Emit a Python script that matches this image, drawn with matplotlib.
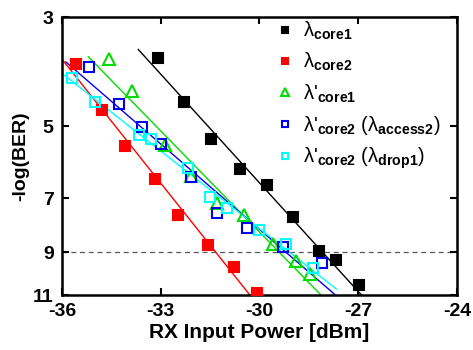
import numpy as np
import matplotlib
matplotlib.use("Agg")
import matplotlib.pyplot as plt
import matplotlib.ticker as ticker

plt.rcParams.update({
    "font.family": "Liberation Sans",
    "mathtext.fontset": "custom",
    "mathtext.rm": "Liberation Sans",
    "mathtext.bf": "Liberation Sans:bold",
    "mathtext.it": "Liberation Sans",
})

# === Data ===
core1_x = [-33.07, -32.28, -31.48, -30.59, -29.78, -28.99, -28.18, -27.67, -26.99]
core1_y = [3.63, 4.46, 5.30, 6.09, 6.59, 7.63, 8.95, 9.35, 10.49]

core2_x = [-35.58, -34.78, -34.08, -33.17, -32.47, -31.57, -30.78, -30.08]
core2_y = [3.73, 4.63, 5.47, 6.40, 7.56, 8.71, 9.67, 10.92]

core1p_x = [-34.57, -33.88, -32.87, -32.09, -31.28, -30.48, -29.60, -28.89, -28.46]
core1p_y = [3.65, 4.24, 5.45, 6.30, 7.14, 7.55, 8.66, 9.36, 9.98]

access2_x = [-35.17, -34.28, -33.58, -33.00, -32.09, -31.28, -30.39, -29.29, -28.10]
access2_y = [3.78, 4.51, 5.01, 5.44, 6.34, 7.48, 8.03, 8.77, 9.47]

drop1_x = [-35.69, -35.00, -33.66, -33.29, -32.18, -31.49, -30.98, -30.00, -29.20, -28.38]
drop1_y = [3.99, 4.47, 5.21, 5.31, 6.08, 6.95, 7.32, 8.11, 8.66, 9.68]

# fitted lines (end points)
fit_core1 = ([-33.68, -26.90], [3.49, 11.0])
fit_core2 = ([-35.96, -30.29], [3.68, 11.0])
fit_core1p = ([-35.20, -28.13], [3.61, 11.0])
fit_access2 = ([-35.88, -27.69], [3.70, 11.0])
fit_drop1 = ([-35.96, -27.66], [3.92, 10.70])

fec_limit = 9
xticks = [-36, -33, -30, -27, -24]
yticks = [3, 5, 7, 9, 11]

# === Plot ===
fig = plt.figure(figsize=(4.73, 3.5), dpi=100)
ax = fig.add_axes([0.131, 0.157, 0.835, 0.794])

ax.axhline(fec_limit, color="0.35", lw=0.9, ls=(0, (4, 3)), zorder=1)

series = [
    (core1_x, core1_y, fit_core1, "black", "s", True, r"λ$_{\mathbf{core1}}$"),
    (core2_x, core2_y, fit_core2, "red", "s", True, r"λ$_{\mathbf{core2}}$"),
    (core1p_x, core1p_y, fit_core1p, "#00dd00", "^", False, r"λ'$_{\mathbf{core1}}$"),
    (access2_x, access2_y, fit_access2, "#0000ee", "s", False,
     r"λ'$_{\mathbf{core2}}$ (λ$_{\mathbf{access2}}$)"),
    (drop1_x, drop1_y, fit_drop1, "cyan", "s", False,
     r"λ'$_{\mathbf{core2}}$ (λ$_{\mathbf{drop1}}$)"),
]

for x, y, fit, color, marker, filled, label in series:
    ax.plot(fit[0], fit[1], color=color, lw=1.0, zorder=2)
    ms = 8.5 if marker == "^" else 7
    ax.plot(x, y, ls="none", marker=marker, ms=ms,
            mfc=color if filled else "none", mec=color, mew=1.5,
            label=label, zorder=3)

ax.set_yscale("log")
ax.set_xlim(-36, -24)
ax.set_ylim(11, 3)
ax.yaxis.set_major_locator(ticker.FixedLocator(yticks))
ax.yaxis.set_minor_locator(ticker.NullLocator())
ax.yaxis.set_major_formatter(ticker.FixedFormatter([str(v) for v in yticks]))
ax.set_xticks(xticks)
ax.set_xticklabels([str(v) for v in xticks])

for lab in ax.get_xticklabels() + ax.get_yticklabels():
    lab.set_fontweight("bold")
    lab.set_fontsize(14)

ax.tick_params(axis="both", which="major", direction="in", length=5, width=1.5,
               top=True, right=True)
ax.tick_params(axis="x", pad=6)
ax.tick_params(axis="y", pad=6)
for sp in ax.spines.values():
    sp.set_linewidth(1.8)

ax.set_xlabel("RX Input Power [dBm]", fontsize=15, fontweight="bold", labelpad=2)
ax.set_ylabel("-log(BER)", fontsize=14, fontweight="bold", labelpad=3)

leg = ax.legend(loc="upper right", frameon=False, fontsize=14.5, markerscale=0.7,
                handlelength=0.6, handletextpad=0.6, labelspacing=0.45,
                borderaxespad=0.0, bbox_to_anchor=(0.98, 1.02))

fig.savefig("out.png", dpi=100)
